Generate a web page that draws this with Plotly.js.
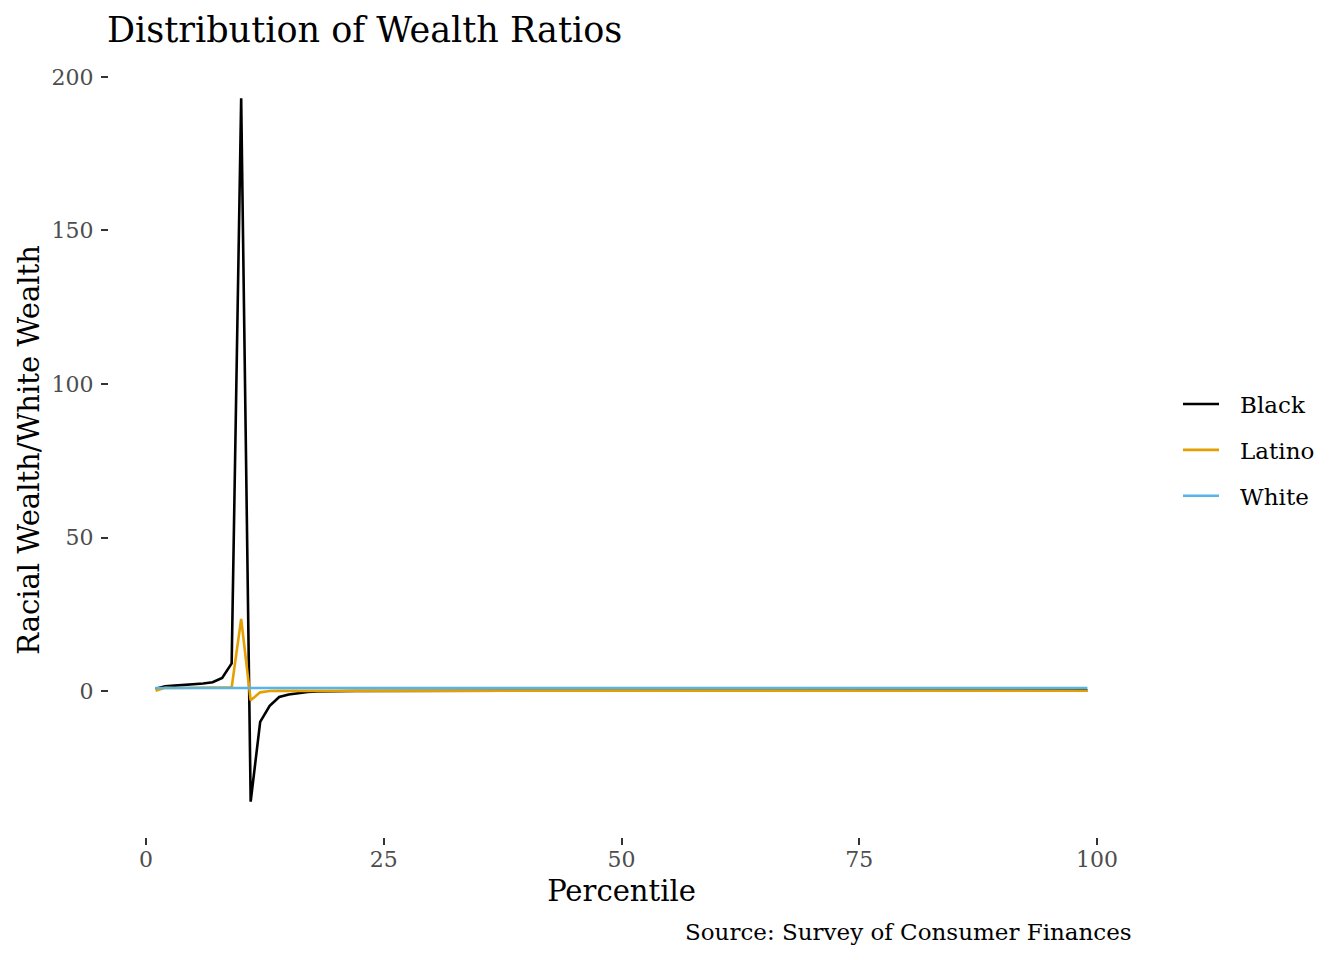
<!DOCTYPE html>
<html>
<head>
<meta charset="utf-8">
<script src="https://cdn.plot.ly/plotly-3.0.1.min.js"></script>
<style>html,body{margin:0;padding:0;background:#fff}#chart{width:1344px;height:960px}</style>
</head>
<body>
<div id="chart"></div>
<script>
const percentiles = [];
for (let p = 1; p <= 99; p++) percentiles.push(p);

const blackRatio = [
  0.8, 1.6, 1.8, 2.0, 2.2, 2.5, 2.9, 4.3, 9.0, 193.0,
  -36.0, -10.0, -4.8, -1.9, -1.1, -0.6, -0.3, -0.15, -0.05, 0.01,
  0.03, 0.04, 0.05, 0.06, 0.06, 0.07, 0.08, 0.08, 0.09, 0.09,
  0.10, 0.10, 0.11, 0.11, 0.11, 0.12, 0.12, 0.12, 0.13, 0.13,
  0.13, 0.13, 0.14, 0.14, 0.14, 0.14, 0.14, 0.15, 0.15, 0.15,
  0.15, 0.15, 0.15, 0.15, 0.16, 0.16, 0.16, 0.16, 0.16, 0.16,
  0.16, 0.16, 0.16, 0.17, 0.17, 0.17, 0.17, 0.17, 0.17, 0.17,
  0.17, 0.17, 0.17, 0.17, 0.17, 0.17, 0.17, 0.17, 0.18, 0.18,
  0.18, 0.18, 0.18, 0.18, 0.18, 0.18, 0.18, 0.19, 0.19, 0.19,
  0.19, 0.19, 0.20, 0.20, 0.20, 0.21, 0.21, 0.22, 0.23
];

const latinoRatio = [
  0.1, 1.1, 1.0, 1.0, 1.0, 1.0, 1.0, 1.0, 1.2, 23.5,
  -3.0, -0.4, 0.05, 0.07, 0.08, 0.09, 0.10, 0.10, 0.11, 0.11,
  0.12, 0.12, 0.12, 0.13, 0.13, 0.13, 0.13, 0.14, 0.14, 0.14,
  0.14, 0.14, 0.15, 0.15, 0.15, 0.15, 0.15, 0.15, 0.15, 0.16,
  0.16, 0.16, 0.16, 0.16, 0.16, 0.16, 0.16, 0.16, 0.17, 0.17,
  0.17, 0.17, 0.17, 0.17, 0.17, 0.17, 0.17, 0.17, 0.18, 0.18,
  0.18, 0.18, 0.18, 0.18, 0.18, 0.18, 0.18, 0.18, 0.18, 0.18,
  0.18, 0.18, 0.18, 0.18, 0.18, 0.19, 0.19, 0.19, 0.19, 0.19,
  0.19, 0.19, 0.19, 0.19, 0.19, 0.19, 0.19, 0.18, 0.18, 0.18,
  0.18, 0.18, 0.17, 0.17, 0.16, 0.16, 0.15, 0.14, 0.13
];

const whiteRatio = percentiles.map(() => 1);

const seriesNames = ["Black", "Latino", "White"];
const seriesColors = ["#000000", "#E69F00", "#56B4E9"];
const seriesValues = [blackRatio, latinoRatio, whiteRatio];

const xTicks = [0, 25, 50, 75, 100];
const yTicks = [0, 50, 100, 150, 200];

const FONT = "DejaVu Serif";

const traces = seriesNames.map((name, i) => ({
  type: "scatter",
  mode: "lines",
  name: "\u2002\u2009" + name,
  x: percentiles,
  y: seriesValues[i],
  legendgroup: name,
  line: { color: seriesColors[i], width: 2.6 }
}));

const L = 109, R = 1134, T = 63, B = 837;
const pw = R - L, ph = B - T;

const layout = {
  width: 1344,
  height: 960,
  paper_bgcolor: "#ffffff",
  plot_bgcolor: "#ffffff",
  margin: { l: L, r: 1344 - R, t: T, b: 960 - B },
  font: { family: FONT, color: "#000000" },
  title: {
    text: "Distribution of Wealth Ratios",
    font: { family: FONT, size: 35, color: "#000000" },
    xref: "container", x: 107 / 1344, xanchor: "left",
    yref: "container", y: 1 - 30 / 960, yanchor: "middle"
  },
  xaxis: {
    range: [-3.9, 103.9],
    tickmode: "array",
    tickvals: xTicks,
    ticktext: xTicks.map(String),
    ticks: "outside", ticklen: 7, tickwidth: 2, tickcolor: "#333333",
    ticklabelstandoff: -4,
    showgrid: false, zeroline: false, showline: false,
    tickfont: { family: FONT, size: 22, color: "#4d4d4d" },
    title: { text: "Percentile", font: { family: FONT, size: 29, color: "#000000" }, standoff: 9 }
  },
  yaxis: {
    range: [-47.5, 204.5],
    tickmode: "array",
    tickvals: yTicks,
    ticktext: yTicks.map(String),
    ticks: "outside", ticklen: 7, tickwidth: 2, tickcolor: "#333333",
    ticklabelstandoff: 3,
    showgrid: false, zeroline: false, showline: false,
    tickfont: { family: FONT, size: 22, color: "#4d4d4d" },
    title: { text: "Racial Wealth/White Wealth", font: { family: FONT, size: 29, color: "#000000" }, standoff: 3 }
  },
  legend: {
    x: 1178 / 1344, xref: "container", xanchor: "left",
    y: 0.5, yanchor: "middle",
    font: { family: FONT, size: 23, color: "#000000" },
    traceorder: "grouped",
    tracegroupgap: 13,
    itemwidth: 36,
    bgcolor: "rgba(0,0,0,0)"
  },
  annotations: [{
    text: "Source: Survey of Consumer Finances",
    xref: "paper", yref: "paper",
    x: (1134 - L) / pw,
    y: (B - 932) / ph,
    xanchor: "right", yanchor: "middle",
    showarrow: false,
    font: { family: FONT, size: 23, color: "#000000" }
  }]
};

Plotly.newPlot("chart", traces, layout, { displayModeBar: false, responsive: false });
</script>
</body>
</html>
